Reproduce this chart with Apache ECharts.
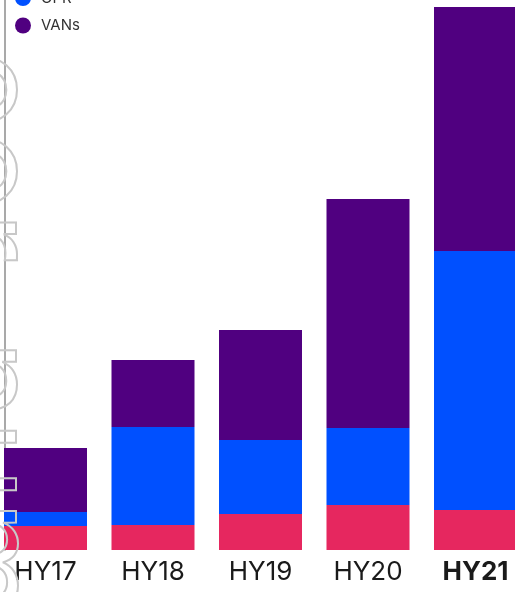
<!DOCTYPE html>
<html>
<head>
<meta charset="utf-8">
<script src="https://cdn.jsdelivr.net/npm/echarts@6/dist/echarts.min.js"></script>
<style>html,body{margin:0;padding:0;background:#fff}#c{width:515px;height:592px}</style>
</head>
<body>
<div id="c"></div>
<script>
const categories = ['HY17', 'HY18', 'HY19', 'HY20', 'HY21'];
const seriesNames = ['Other', 'OPR', 'VANs'];
const otherValues = [24, 25, 36, 45, 40];
const oprValues = [14, 98, 74, 77, 259];
const vansValues = [64, 67, 110, 229, 244];
const colors = ['#E6275F', '#0050FF', '#500080'];

const chart = echarts.init(document.getElementById('c'), null, {renderer: 'canvas'});
const font = 'Inter, "Noto Sans", sans-serif';
const mk = (name, data, color) => ({
  name, type: 'bar', stack: 'total', data, barWidth: 83,
  itemStyle: {color}, emphasis: {disabled: true}
});
chart.setOption({
  animation: false,
  grid: {left: -8.25, right: -14.25, top: 0, bottom: 42, containLabel: false, outerBoundsMode: 'none'},
  legend: {
    orient: 'vertical', left: 10, top: -42.5,
    icon: 'circle', itemWidth: 26, itemHeight: 16, itemGap: 11.5,
    data: seriesNames,
    textStyle: {color: '#333', fontSize: 15, fontFamily: font}
  },
  xAxis: {
    type: 'category', data: categories,
    axisLine: {show: false}, axisTick: {show: false},
    axisLabel: {
      interval: 0, margin: 9, fontSize: 26, color: '#1a1a1a', fontFamily: font,
      formatter: v => v === 'HY21' ? '{b|' + v + '}' : v,
      rich: {b: {fontSize: 26, fontWeight: 'bold', color: '#1a1a1a', fontFamily: font}}
    }
  },
  yAxis: {
    type: 'value', min: 0, max: 550, offset: -12.75,
    axisLine: {show: true, lineStyle: {color: '#8c8c8c', width: 1.5}},
    axisTick: {show: false}, axisLabel: {show: false}, splitLine: {show: false}
  },
  graphic: [{
    type: 'text', x: -85, y: 49, rotation: -Math.PI / 2, z: 100, silent: true,
    style: {
      text: 'oor  number', font: '136px Inter, sans-serif',
      fill: 'rgba(0,0,0,0)', stroke: '#c8c8c8', lineWidth: 2,
      textAlign: 'left', textVerticalAlign: 'bottom'
    }
  }],
  series: [
    mk(seriesNames[0], otherValues, colors[0]),
    mk(seriesNames[1], oprValues, colors[1]),
    mk(seriesNames[2], vansValues, colors[2])
  ]
});
</script>
</body>
</html>
